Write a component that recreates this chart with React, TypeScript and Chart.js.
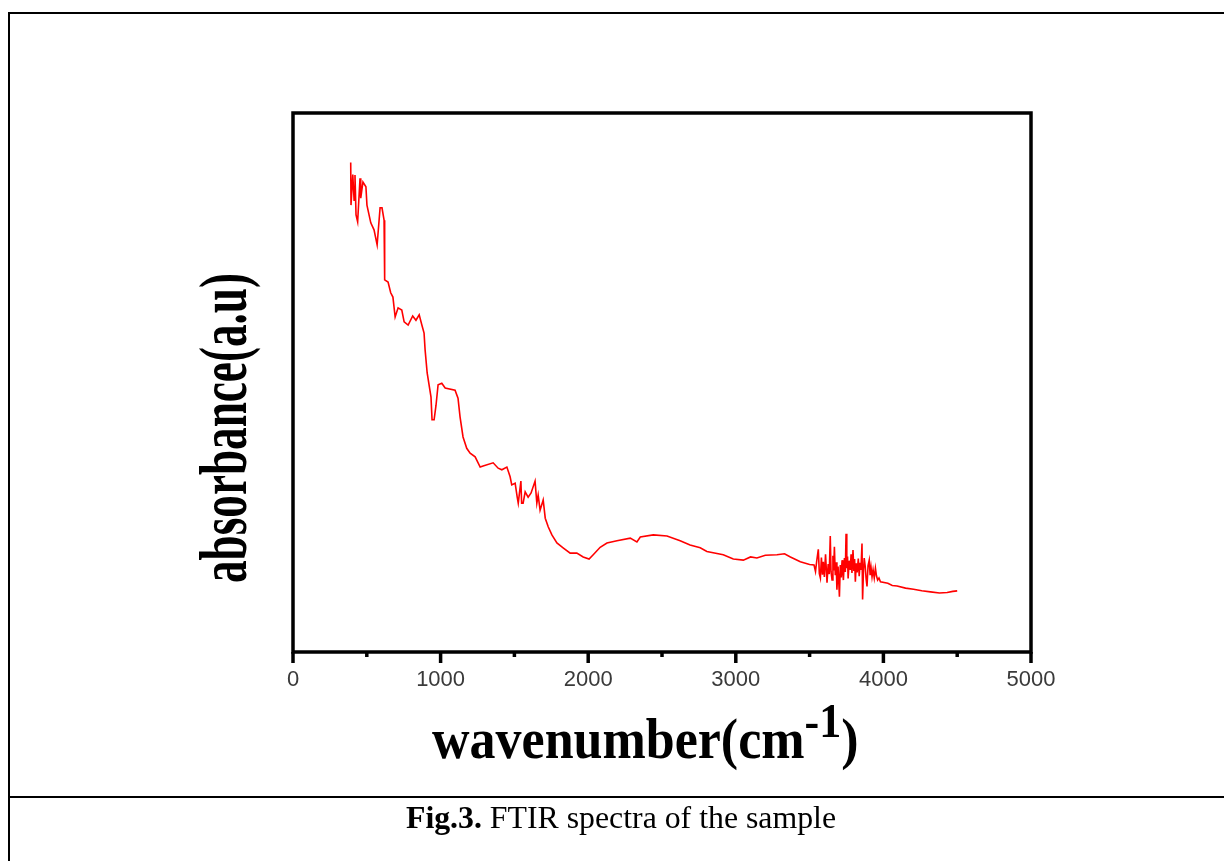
import React, { useEffect, useRef } from 'react';
import { Chart, registerables } from 'chart.js';

Chart.register(...registerables);

// FTIR spectrum (wavenumber in cm-1, absorbance in arbitrary units)
const wavenumber = [
  391, 393, 405, 414, 420, 427, 438, 454, 459, 474, 494, 501, 527, 549, 570, 590, 603, 617, 621, 644,
  662, 677, 692, 712, 737, 753, 780, 811, 833, 855, 873, 888, 895, 909, 935, 942, 956, 969, 983, 1008,
  1031, 1098, 1118, 1132, 1152, 1177, 1200, 1234, 1268, 1288, 1356, 1390, 1415, 1449, 1471, 1482, 1505, 1519, 1526, 1544,
  1549, 1559, 1573, 1593, 1613, 1640, 1652, 1661, 1674, 1695, 1709, 1729, 1754, 1788, 1830, 1878, 1923, 1966, 2006, 2034,
  2081, 2127, 2195, 2285, 2330, 2353, 2441, 2534, 2623, 2690, 2759, 2804, 2915, 2983, 3051, 3100, 3143, 3200, 3279, 3330,
  3370, 3437, 3500, 3530, 3540, 3548, 3559, 3566, 3573, 3580, 3587, 3593, 3600, 3608, 3618, 3626, 3633, 3640, 3645, 3652,
  3658, 3663, 3668, 3674, 3680, 3685, 3693, 3702, 3708, 3714, 3720, 3725, 3729, 3736, 3742, 3747, 3752, 3757, 3761, 3768,
  3776, 3781, 3787, 3794, 3800, 3805, 3810, 3816, 3822, 3830, 3836, 3842, 3848, 3855, 3859, 3865, 3870, 3877, 3883, 3889,
  3896, 3904, 3910, 3916, 3923, 3930, 3938, 3946, 3953, 3961, 3970, 3980, 4030, 4060, 4093, 4150, 4204, 4260, 4319, 4380,
  4432, 4470, 4500,
];
const absorbance = [
  90.6, 82.7, 88.4, 83.6, 88.3, 80.9, 79.6, 87.7, 84.0, 87.0, 86.1, 82.7, 79.4, 78.1, 75.3, 82.2, 82.2, 79.9, 68.8, 68.4,
  66.4, 65.6, 61.9, 63.6, 63.2, 61.0, 60.4, 62.1, 61.3, 62.3, 60.4, 58.9, 55.8, 51.5, 47.0, 42.8, 42.8, 45.5, 49.3, 49.6,
  48.7, 48.3, 46.8, 43.3, 39.6, 37.5, 36.6, 35.9, 34.0, 34.2, 34.8, 33.8, 33.5, 34.0, 32.2, 30.7, 31.0, 28.4, 27.3, 31.4,
  27.3, 27.3, 29.4, 28.4, 29.2, 31.4, 27.3, 28.8, 26.0, 27.9, 24.5, 22.9, 21.4, 19.9, 19.0, 18.0, 18.0, 17.3, 16.9, 17.7,
  19.1, 19.9, 20.3, 20.8, 20.1, 21.0, 21.4, 21.2, 20.3, 19.5, 19.0, 18.3, 17.7, 16.9, 16.7, 17.3, 17.1, 17.6, 17.7, 17.9,
  17.3, 16.4, 15.9, 15.8, 14.6, 16.5, 18.7, 14.2, 13.4, 17.2, 14.0, 16.4, 13.6, 17.8, 12.5, 16.0, 14.1, 21.2, 14.6, 13.0,
  17.5, 14.8, 19.2, 13.9, 16.3, 11.2, 15.5, 9.9, 15.8, 13.5, 16.7, 14.2, 13.0, 17.1, 14.5, 21.6, 15.2, 17.4, 13.3, 16.6,
  14.9, 17.8, 14.3, 18.6, 14.7, 16.9, 12.7, 16.1, 14.4, 17.0, 13.7, 16.2, 14.9, 19.8, 9.4, 14.8, 17.1, 15.5, 13.2, 11.8,
  15.7, 16.7, 13.9, 15.4, 13.6, 14.9, 13.4, 15.2, 13.8, 13.0, 13.4, 12.7, 12.4, 12.0, 11.9, 11.5, 11.3, 11.0, 10.8, 10.6,
  10.7, 10.9, 11.0,
];

const majorTicks = [0, 1000, 2000, 3000, 4000, 5000];
const minorTicks = [500, 1500, 2500, 3500, 4500];

const xTitleMain = 'wavenumber(cm';
const xTitleSup = '-1';
const xTitleEnd = ')';
const yTitle = 'absorbance(a.u)';
const captionBold = 'Fig.3.';
const captionRest = ' FTIR spectra of the sample';

const SERIF = '"Liberation Serif", "Times New Roman", serif';

const framePlugin = {
  id: 'frameAndTitles',
  afterDraw(chart: any) {
    const { ctx, chartArea: a, scales } = chart;
    const x = scales.x;
    ctx.save();
    ctx.strokeStyle = '#000';
    ctx.lineWidth = 3.5;
    ctx.lineJoin = 'miter';
    ctx.strokeRect(a.left, a.top, a.right - a.left, a.bottom - a.top);
    ctx.lineCap = 'butt';
    majorTicks.forEach((v) => {
      const px = x.getPixelForValue(v);
      ctx.beginPath();
      ctx.moveTo(px, a.bottom);
      ctx.lineTo(px, a.bottom + 11);
      ctx.stroke();
    });
    minorTicks.forEach((v) => {
      const px = x.getPixelForValue(v);
      ctx.beginPath();
      ctx.moveTo(px, a.bottom);
      ctx.lineTo(px, a.bottom + 5);
      ctx.stroke();
    });

    // x axis title
    ctx.fillStyle = '#000';
    ctx.textBaseline = 'alphabetic';
    ctx.textAlign = 'left';
    const tx = a.left + 139;
    const ty = a.bottom + 106;
    ctx.save();
    ctx.translate(tx, ty);
    ctx.scale(1, 1.1);
    ctx.font = `bold 52px ${SERIF}`;
    ctx.fillText(xTitleMain, 0, 0);
    const w1 = ctx.measureText(xTitleMain).width;
    ctx.font = `bold 44px ${SERIF}`;
    ctx.fillText(xTitleSup, w1, -19);
    const w2 = ctx.measureText(xTitleSup).width;
    ctx.font = `bold 52px ${SERIF}`;
    ctx.fillText(xTitleEnd, w1 + w2, 0);
    ctx.restore();

    // y axis title
    ctx.save();
    ctx.translate(a.left - 47, a.bottom - 69);
    ctx.rotate(-Math.PI / 2);
    ctx.font = `bold 46px ${SERIF}`;
    const wy = ctx.measureText(yTitle).width;
    ctx.scale(310 / wy, 1.45);
    ctx.fillText(yTitle, 0, 0);
    ctx.restore();

    ctx.restore();
  },
};

export default function App() {
  const ref = useRef<HTMLCanvasElement | null>(null);

  useEffect(() => {
    if (!ref.current) return;
    const points = wavenumber.map((w, i) => ({ x: w, y: absorbance[i] }));
    const chart = new Chart(ref.current, {
      type: 'line',
      data: {
        datasets: [
          {
            data: points,
            borderColor: '#ff0000',
            borderWidth: 1.6,
            pointRadius: 0,
            tension: 0,
            fill: false,
          },
        ],
      },
      options: {
        animation: false,
        responsive: false,
        events: [],
        layout: { padding: { left: 293, top: 113, right: 193, bottom: 169 } },
        plugins: { legend: { display: false }, tooltip: { enabled: false }, title: { display: false } },
        scales: {
          x: {
            type: 'linear',
            min: 0,
            max: 5000,
            afterFit: (s: any) => {
              s.height = 40;
            },
            border: { display: false },
            grid: { display: false, drawTicks: false },
            ticks: {
              stepSize: 500,
              autoSkip: false,
              maxRotation: 0,
              padding: 15,
              color: '#3a3a3a',
              font: { family: '"Liberation Sans", Arial, sans-serif', size: 22 },
              callback: (v: any) => (Number(v) % 1000 === 0 ? String(v) : ''),
            },
          },
          y: {
            type: 'linear',
            min: -0.37,
            max: 99.82,
            display: false,
          },
        },
      },
      plugins: [framePlugin],
    });
    return () => chart.destroy();
  }, []);

  return (
    <div style={{ position: 'absolute', left: 0, top: 0, width: 1224, height: 861, overflow: 'hidden', background: '#fff' }}>
      <canvas ref={ref} width={1224} height={861} style={{ position: 'absolute', left: 0, top: 0, width: 1224, height: 861 }} />
      <div style={{ position: 'absolute', left: 8, top: 12, width: 2, height: 849, background: '#000' }} />
      <div style={{ position: 'absolute', left: 8, top: 12, width: 1216, height: 2, background: '#000' }} />
      <div style={{ position: 'absolute', left: 8, top: 796, width: 1216, height: 2, background: '#000' }} />
      <div
        style={{
          position: 'absolute',
          left: 0,
          width: 1242,
          top: 802,
          textAlign: 'center',
          fontFamily: SERIF,
          fontSize: 31.8,
          lineHeight: 1,
          color: '#000',
          whiteSpace: 'nowrap',
        }}
      >
        <b>{captionBold}</b>
        {captionRest}
      </div>
    </div>
  );
}
